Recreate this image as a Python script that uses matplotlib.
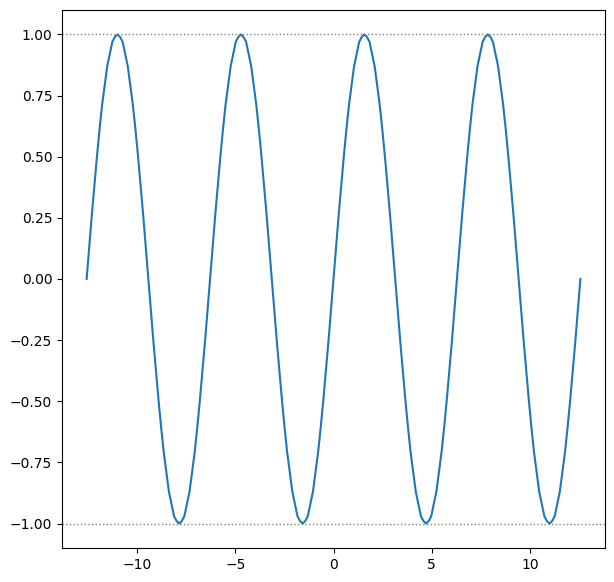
import numpy as np
import matplotlib
matplotlib.use("Agg")
from matplotlib import pyplot as plt

# sample positions, -4pi .. 4pi in 192 steps
x_start = -12.566
x_end = 12.566
n_points = 193

# curve values, one value per sample position
y_values = [
    0.00, 0.13, 0.26, 0.38, 0.50, 0.61, 0.71, 0.79, 0.87, 0.92, 0.97, 0.99,
    1.00, 0.99, 0.97, 0.92, 0.87, 0.79, 0.71, 0.61, 0.50, 0.38, 0.26, 0.13,
    0.00, -0.13, -0.26, -0.38, -0.50, -0.61, -0.71, -0.79, -0.87, -0.92, -0.97, -0.99,
    -1.00, -0.99, -0.97, -0.92, -0.87, -0.79, -0.71, -0.61, -0.50, -0.38, -0.26, -0.13,
    0.00, 0.13, 0.26, 0.38, 0.50, 0.61, 0.71, 0.79, 0.87, 0.92, 0.97, 0.99,
    1.00, 0.99, 0.97, 0.92, 0.87, 0.79, 0.71, 0.61, 0.50, 0.38, 0.26, 0.13,
    0.00, -0.13, -0.26, -0.38, -0.50, -0.61, -0.71, -0.79, -0.87, -0.92, -0.97, -0.99,
    -1.00, -0.99, -0.97, -0.92, -0.87, -0.79, -0.71, -0.61, -0.50, -0.38, -0.26, -0.13,
    0.00, 0.13, 0.26, 0.38, 0.50, 0.61, 0.71, 0.79, 0.87, 0.92, 0.97, 0.99,
    1.00, 0.99, 0.97, 0.92, 0.87, 0.79, 0.71, 0.61, 0.50, 0.38, 0.26, 0.13,
    0.00, -0.13, -0.26, -0.38, -0.50, -0.61, -0.71, -0.79, -0.87, -0.92, -0.97, -0.99,
    -1.00, -0.99, -0.97, -0.92, -0.87, -0.79, -0.71, -0.61, -0.50, -0.38, -0.26, -0.13,
    0.00, 0.13, 0.26, 0.38, 0.50, 0.61, 0.71, 0.79, 0.87, 0.92, 0.97, 0.99,
    1.00, 0.99, 0.97, 0.92, 0.87, 0.79, 0.71, 0.61, 0.50, 0.38, 0.26, 0.13,
    0.00, -0.13, -0.26, -0.38, -0.50, -0.61, -0.71, -0.79, -0.87, -0.92, -0.97, -0.99,
    -1.00, -0.99, -0.97, -0.92, -0.87, -0.79, -0.71, -0.61, -0.50, -0.38, -0.26, -0.13,
    0.00,
]

# reference lines
ref_levels = [1.0, -1.0]

x_values = np.linspace(x_start, x_end, n_points)

fig = plt.figure(figsize=(6.14, 5.82), dpi=100)
ax = fig.add_axes([62 / 614, 1 - 548 / 582, (605 - 62) / 614, (548 - 10) / 582])

ax.plot(x_values, y_values, color="#1f77b4", linewidth=1.5)
for lvl in ref_levels:
    ax.axhline(lvl, color="gray", linestyle=":", linewidth=1)

ax.set_xlim(-13.82, 13.82)
ax.set_ylim(-1.1, 1.1)

fig.savefig("out.png", dpi=100)
